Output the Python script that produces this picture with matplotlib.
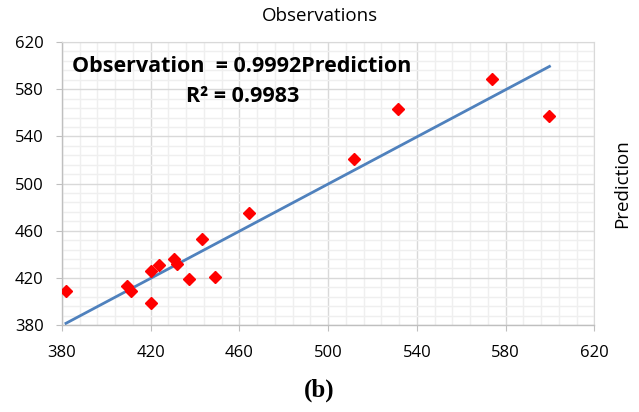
import matplotlib.pyplot as plt
import numpy as np

# observed vs predicted values
observed = [381.8, 409.3, 411.1, 420.1, 420.0, 423.8, 430.5, 432.0,
            437.3, 443.0, 449.0, 464.3, 511.8, 531.7, 573.8, 599.8]
predicted = [408.8, 413.0, 408.8, 398.4, 425.5, 430.9, 436.0, 431.5,
             418.8, 453.0, 420.4, 475.0, 520.8, 563.0, 588.7, 557.5]
slope = 0.9992
r2 = 0.9983

plt.rcParams['font.family'] = ['Open Sans', 'DejaVu Sans']

fig = plt.figure(figsize=(6.39, 4.12), dpi=100)
ax = fig.add_axes([0.097, 0.211, 0.833, 0.687])

xs = np.array([min(observed), max(observed)])
ax.plot(xs, slope * xs, color='#4f81bd', lw=2.0, zorder=3)
ax.plot(observed, predicted, 'D', color='#ff0000', ms=6.5, mec='#ff0000', zorder=4)

ax.set_xlim(380, 620)
ax.set_ylim(380, 620)
ticks = np.arange(380, 621, 40)
minor = np.arange(380, 621, 8)
ax.set_xticks(ticks)
ax.set_yticks(ticks)
ax.set_xticks(minor, minor=True)
ax.set_yticks(minor, minor=True)
ax.grid(which='major', color='#d9d9d9', lw=1.0, zorder=0)
ax.grid(which='minor', color='#efefef', lw=1.0, zorder=0)
ax.set_axisbelow(True)

for side in ['top', 'right']:
    ax.spines[side].set_color('#d9d9d9')
for side in ['left', 'bottom']:
    ax.spines[side].set_color('#bfbfbf')
    ax.spines[side].set_linewidth(1.0)
ax.tick_params(which='major', length=4.3, color='#bfbfbf', labelsize=12)
ax.tick_params(axis='x', pad=10)
ax.tick_params(axis='y', pad=9)
ax.tick_params(which='minor', length=0)

fig.text(0.5, 0.962, 'Observations', ha='center', va='center', fontsize=13.5)
fig.text(0.974, 0.555, 'Prediction', ha='center', va='center', rotation=90, fontsize=13.5)

ax.text(0.019, 0.912, 'Observation  = %.4fPrediction' % slope, transform=ax.transAxes,
        fontsize=15.5, fontweight='bold', ha='left', va='center')
ax.text(0.34, 0.806, 'R² = %.4f' % r2, transform=ax.transAxes,
        fontsize=15.5, fontweight='bold', ha='center', va='center')

fig.text(0.5, 0.053, '(b)', ha='center', va='center', fontsize=18,
         fontweight='bold', family='Liberation Serif')

fig.savefig('out.png', dpi=100)
